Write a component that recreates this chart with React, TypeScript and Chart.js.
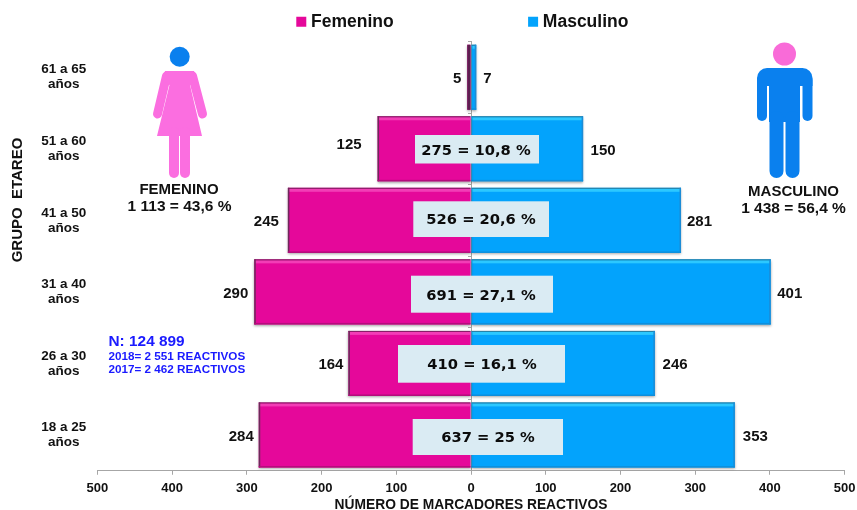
import React, { useEffect, useRef } from "react";
import { Chart, registerables } from "chart.js";

Chart.register(...registerables);

const categories = [["61 a 65", "años"], ["51 a 60", "años"], ["41 a 50", "años"], ["31 a 40", "años"], ["26 a 30", "años"], ["18 a 25", "años"]];
const femenino = [5, 125, 245, 290, 164, 284];
const masculino = [7, 150, 281, 401, 246, 353];
const totals = ["", "275 = 10,8 %", "526 = 20,6 %", "691 = 27,1 %", "410 = 16,1 %", "637 = 25 %"];
const tickValues = [-500, -400, -300, -200, -100, 0, 100, 200, 300, 400, 500];

const SANS = "'Liberation Sans', Arial, sans-serif";
const PINK = "#E5089A";
const BLUE = "#03A3FC";

// pixel styling of the annotations
const boxRects = [null, [415, 135, 539, 163.5], [413.3, 201.3, 549, 237], [411, 275.7, 553, 312.7], [398, 345, 565, 382.7], [412.7, 419, 563, 455]];
const totalCenter = [0, 476, 481, 481, 482, 488];
const leftGap = [6, 16, 9, 6, 5, 5];
const rightGap = [7, 7.5, 6, 6.5, 7.7, 8];
const leftDy = [1.7, -4.3, 1.7, 1.7, 1.2, 1.7];
const rightDy = [1.7, 1.7, 1.7, 1.7, 1.2, 1.7];

function drawPeople(ctx: CanvasRenderingContext2D) {
  const limb = (color: string, w: number, pts: number[]) => {
    ctx.strokeStyle = color; ctx.lineWidth = w; ctx.lineCap = "round"; ctx.lineJoin = "round";
    ctx.beginPath(); ctx.moveTo(pts[0], pts[1]);
    for (let i = 2; i < pts.length; i += 2) ctx.lineTo(pts[i], pts[i + 1]);
    ctx.stroke();
  };
  // female
  const fp = "#FB6EE0";
  ctx.fillStyle = "#0A80EE";
  ctx.beginPath(); ctx.arc(179.7, 56.7, 10, 0, Math.PI * 2); ctx.fill();
  limb(fp, 9, [166.5, 76, 157.5, 114]);
  limb(fp, 9, [192.5, 76, 202.5, 114]);
  ctx.fillStyle = fp;
  ctx.beginPath();
  ctx.moveTo(165, 71); ctx.lineTo(194, 71); ctx.lineTo(197, 80); ctx.lineTo(190, 85); ctx.lineTo(202, 136); ctx.lineTo(157, 136); ctx.lineTo(169.5, 85); ctx.lineTo(162, 80);
  ctx.closePath(); ctx.fill();
  limb(fp, 10, [174, 132, 174, 173]);
  limb(fp, 10, [185, 132, 185, 173]);
  // male
  const mb = "#0A80EE";
  ctx.fillStyle = "#F96BD8";
  ctx.beginPath(); ctx.arc(784.5, 54, 11.5, 0, Math.PI * 2); ctx.fill();
  limb(mb, 10, [762, 80, 762, 116]);
  limb(mb, 10, [807.5, 80, 807.5, 116]);
  ctx.fillStyle = mb;
  ctx.beginPath();
  ctx.roundRect(757, 68, 55.5, 18, [10, 10, 0, 0]);
  ctx.fill();
  ctx.fillRect(769, 84, 31, 38);
  limb(mb, 14, [776.5, 118, 776.5, 171]);
  limb(mb, 14, [792.5, 118, 792.5, 171]);
}

const decor = {
  id: "decor",
  afterLayout(chart: any) {
    chart.legend.left += 42;
    chart.legend.right += 42;
    chart.legend.top -= 1;
    chart.legend.bottom -= 1;
  },
  beforeDatasetDraw(chart: any) {
    const c = chart.ctx;
    c.save();
    c.shadowColor = "rgba(0,0,0,0.35)";
    c.shadowBlur = 2.5;
    c.shadowOffsetY = 1.5;
    c.shadowOffsetX = 0;
  },
  afterDatasetDraw(chart: any, args: any) {
    const c = chart.ctx;
    c.restore();
    const isF = args.index === 0;
    chart.getDatasetMeta(args.index).data.forEach((el: any) => {
      const top = el.y - el.height / 2;
      const bottom = el.y + el.height / 2;
      const l = Math.min(el.x, el.base);
      const r = Math.max(el.x, el.base);
      if (isF && r - l < 6) {
        c.fillStyle = "#5C1F50";
        c.fillRect(l, top, r - l, el.height);
        return;
      }
      c.fillStyle = isF ? "#F23DB6" : "#2CC8FF";
      c.fillRect(l + 1, top + 1, r - l - 1, 3);
      c.fillStyle = isF ? "#7C2262" : "#2B7F9E";
      c.fillRect(l, top, r - l, 1);
      c.fillStyle = isF ? "#6D2A5A" : "#1C8CD6";
      if (isF) c.fillRect(l, top, 1.5, el.height);
      else c.fillRect(r - 1.5, top, 1.5, el.height);
      c.fillStyle = isF ? "#B40D7C" : "#0E8FDC";
      c.fillRect(l, bottom - 1.5, r - l, 1.5);
    });
  },
  afterDraw(chart: any) {
    const c = chart.ctx;
    c.save();
    drawPeople(c);
    c.textBaseline = "middle";
    const metaF = chart.getDatasetMeta(0).data;
    const metaM = chart.getDatasetMeta(1).data;
    categories.forEach((_, i) => {
      const rect = boxRects[i];
      if (rect) {
        c.fillStyle = "#DAEBF3";
        c.fillRect(rect[0], rect[1], rect[2] - rect[0], rect[3] - rect[1]);
        c.fillStyle = "#0B0B0B";
        c.font = "bold 14.7px 'DejaVu Sans'";
        c.textAlign = "center";
        c.fillText(totals[i], totalCenter[i], (rect[1] + rect[3]) / 2 + 1.5);
      }
      c.fillStyle = "#111";
      c.font = `bold 15px ${SANS}`;
      c.textAlign = "right";
      c.fillText(String(femenino[i]), metaF[i].x - leftGap[i], metaF[i].y + leftDy[i]);
      c.textAlign = "left";
      c.fillText(String(masculino[i]), metaM[i].x + rightGap[i], metaM[i].y + rightDy[i]);
    });
    c.textAlign = "center";
    c.fillStyle = "#111";
    c.font = `bold 15px ${SANS}`;
    c.fillText("FEMENINO", 179, 190);
    c.fillText("MASCULINO", 793.5, 192);
    c.font = `bold 15.5px ${SANS}`;
    c.fillText("1 113 = 43,6 %", 179.5, 207);
    c.fillText("1 438 = 56,4 %", 793.5, 209);
    c.fillStyle = "#1A1AFF";
    c.textAlign = "left";
    c.font = `bold 15.4px ${SANS}`;
    c.fillText("N: 124 899", 108.5, 342);
    c.font = `bold 11.7px ${SANS}`;
    c.fillText("2018= 2 551 REACTIVOS", 108.5, 357);
    c.fillText("2017= 2 462 REACTIVOS", 108.5, 370);
    c.fillStyle = "#111";
    c.font = `bold 15px ${SANS}`;
    c.textAlign = "center";
    c.translate(17.5, 200);
    c.rotate(-Math.PI / 2);
    c.fillText("GRUPO  ETAREO", 0, 0);
    c.restore();
  },
};

export default function App() {
  const ref = useRef<HTMLCanvasElement>(null);
  useEffect(() => {
    const chart = new Chart(ref.current!, {
      type: "bar",
      data: {
        labels: categories as any,
        datasets: [
          { label: "Femenino", data: femenino.map((v) => -v), backgroundColor: PINK },
          { label: "Masculino", data: masculino, backgroundColor: BLUE },
        ],
      },
      options: {
        indexAxis: "y",
        responsive: false,
        animation: false,
        barPercentage: 0.91,
        categoryPercentage: 1,
        layout: { padding: { top: 2, right: 12.3, bottom: 0, left: 0 } },
        plugins: {
          tooltip: { enabled: false },
          legend: {
            position: "top",
            labels: {
              color: "#111",
              font: { family: SANS, size: 17.5, weight: "bold" },
              padding: 12,
              boxWidth: 2,
              boxHeight: 10,
              usePointStyle: true,
              pointStyle: "rect",
              generateLabels(chart: any) {
                const items = Chart.defaults.plugins.legend.labels.generateLabels(chart);
                items[0].text = items[0].text + "\u00A0".repeat(26);
                items.forEach((it: any) => { it.pointStyle = "rect"; it.lineWidth = 0; });
                return items;
              },
            },
          },
        },
        scales: {
          x: {
            type: "linear",
            stacked: true,
            min: -500,
            max: 500,
            afterBuildTicks(scale: any) { scale.ticks = tickValues.map((value) => ({ value })); },
            afterFit(scale: any) { scale.height = 39.25; scale.paddingRight = 0; scale.paddingLeft = 0; },
            grid: { drawOnChartArea: false, drawTicks: true, tickLength: 4, color: "#A6A6A6" },
            border: { color: "#A6A6A6", width: 1 },
            ticks: {
              color: "#111",
              padding: 5.5,
              maxRotation: 0,
              font: { family: SANS, size: 13, weight: "bold" },
              callback: (v: any) => String(Math.abs(Number(v))),
            },
            title: {
              display: true,
              text: "NÚMERO DE MARCADORES REACTIVOS",
              color: "#111",
              font: { family: SANS, size: 13.8, weight: "bold", lineHeight: 1 },
              padding: { top: 0, bottom: -2 },
            },
          },
          y: {
            stacked: true,
            afterFit(scale: any) { scale.width = 97.3; },
            grid: { display: false },
            border: { display: false },
            ticks: {
              color: "#111",
              crossAlign: "center",
              padding: 3,
              font: { family: SANS, size: 13.5, weight: "bold", lineHeight: 1.11 },
            },
          },
          y2: {
            type: "category",
            labels: categories as any,
            position: { x: 0 } as any,
            offset: true,
            grid: { offset: true, drawOnChartArea: false, drawTicks: true, tickLength: 3, color: "#A6A6A6" },
            border: { color: "#A6A6A6", width: 1 },
            ticks: { display: false },
          },
        },
      } as any,
      plugins: [decor as any],
    });
    return () => chart.destroy();
  }, []);
  return (
    <div style={{ position: "absolute", left: 0, top: 0, width: 857, height: 510 }}>
      <canvas ref={ref} width={857} height={510} style={{ display: "block" }} />
    </div>
  );
}
